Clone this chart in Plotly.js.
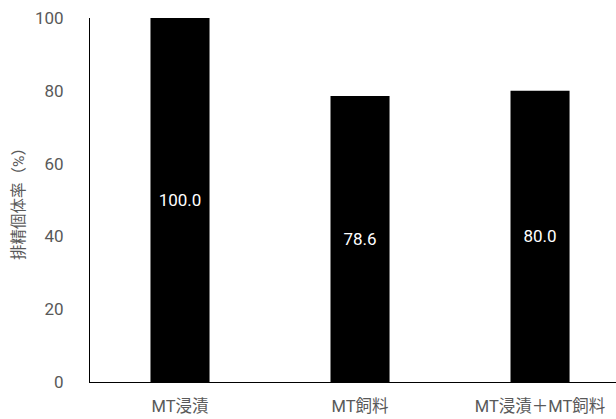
<!DOCTYPE html>
<html><head><meta charset="utf-8">
<script src="https://cdn.plot.ly/plotly-3.0.1.min.js"></script>
<style>html,body{margin:0;padding:0;background:#fff}#c{width:616px;height:419px}</style>
</head><body><div id="c"></div>
<script>
const categories = ['MT浸漬', 'MT飼料', 'MT浸漬＋MT飼料'];
const values = [100.0, 78.6, 80.0];
const yTicks = [0, 20, 40, 60, 80, 100];
const yTitle = '排精個体率（%）';

const font = "Roboto, 'Noto Sans CJK JP', sans-serif";
Plotly.newPlot('c', [{
  type: 'bar',
  x: [0, 1, 2],
  y: values,
  width: 0.328,
  marker: {color: '#000000', line: {color: '#000000', width: 0}},
  texttemplate: '%{y:.1f}',
  textposition: 'inside',
  insidetextanchor: 'middle',
  textangle: 0,
  insidetextfont: {color: '#ffffff', size: 17, family: font},
  hoverinfo: 'none'
}], {
  width: 616, height: 419,
  margin: {l: 90, r: 0, t: 18, b: 37, pad: 0},
  paper_bgcolor: '#fff', plot_bgcolor: '#fff',
  showlegend: false,
  font: {family: font, color: '#595959', size: 17},
  xaxis: {
    range: [-0.5, 2.422],
    tickmode: 'array', tickvals: [0, 1, 2], ticktext: categories,
    showline: true, linecolor: '#000', linewidth: 1.3,
    showgrid: false, zeroline: false, ticks: '',
    ticklabelstandoff: 9,
    tickfont: {size: 16.5, color: '#595959', family: font}
  },
  yaxis: {
    range: [0, 100],
    tickmode: 'array', tickvals: yTicks,
    showline: true, linecolor: '#000', linewidth: 1,
    showgrid: false, zeroline: false, ticks: '',
    ticklabelstandoff: 22,
    tickfont: {size: 17, color: '#595959', family: font},
    title: {text: yTitle, font: {size: 15.5, color: '#595959', family: font}, standoff: 6}
  }
}, {staticPlot: true});
</script></body></html>
